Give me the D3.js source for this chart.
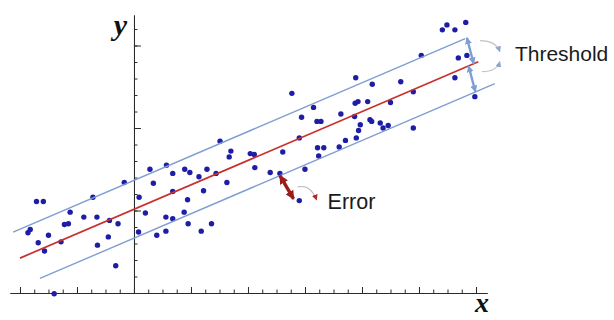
<!DOCTYPE html>
<html>
<head>
<meta charset="utf-8">
<script src="https://cdn.jsdelivr.net/npm/d3@7"></script>
<style>
  html, body { margin: 0; padding: 0; background: #fff; }
  svg { display: block; }
</style>
</head>
<body>
<script>
// Observations (x, y) in axis units
const obsX = [-1.71,-1.59,-1.12,-0.88,-0.65,-0.72,-0.17,-0.43,-0.28,-1.22,-1.15,-1.82,-1.86,-1.50,-1.68,-1.28,-1.57,-0.64,-0.45,-0.32,-1.40,
  0.09,0.20,0.28,0.34,0.57,0.68,0.68,0.89,0.98,0.94,1.14,1.22,1.28,1.44,1.63,1.51,1.70,1.67,2.04,2.11,2.12,0.08,0.40,0.56,1.18,0.56,0.68,0.88,0.95,1.36,
  2.39,2.56,3.00,2.90,2.77,3.15,3.89,4.18,4.68,3.88,3.93,4.10,4.50,2.94,3.21,3.28,3.63,3.87,4.14,4.17,3.97,4.32,4.46,4.37,3.94,3.90,3.71,3.60,3.22,3.33,3.24,2.90,2.61,
  5.49,5.41,5.63,5.82,5.04,5.69,5.63,4.90,5.98,4.90,5.84];
const obsY = [1.11,1.11,0.98,0.92,0.92,1.16,1.34,0.88,0.84,0.83,0.84,0.77,0.73,0.70,0.61,0.62,0.51,0.58,0.68,0.33,-0.01,
  1.16,0.97,1.50,1.33,1.55,1.45,1.23,1.50,1.46,1.13,1.41,1.24,1.50,1.45,1.34,1.84,1.72,1.65,1.69,1.68,1.52,0.74,0.70,0.75,0.75,0.92,0.90,0.98,0.84,0.84,
  1.46,1.45,1.50,1.12,2.42,2.25,2.61,2.53,2.56,2.30,2.32,2.32,2.31,2.13,2.08,2.08,2.17,2.14,2.10,2.08,2.04,2.06,2.03,2.00,1.97,1.88,1.85,1.77,1.76,1.76,1.66,1.88,1.71,
  3.25,3.19,3.19,3.28,2.88,2.85,2.61,2.44,2.38,2.00,2.88];

// Fitted line y = intercept + slope * x, with a band of +/- threshold
const fitIntercept = 1.015;
const fitSlope = 0.296;
const threshold = 0.35;
const fitSpan = [-2.0, 6.04];
const upperSpan = [-2.12, 5.81];
const lowerSpan = [-1.65, 6.33];

// Axis extents and ticks
const xExtent = [-2.175, 6.193];
const yExtent = [0, 3.37];
const xMajorTicks = d3.range(-2, 6.001, 1);
const xMinorTicks = d3.range(-2, 6.001, 0.25);
const yMajorTicks = d3.range(0, 3.001, 1);
const yMinorTicks = d3.range(0, 3.201, 0.2);

// Annotation anchors (axis units)
const thresholdAt = 5.84;
const errorFrom = 2.56;
const errorTo = [2.8, 1.14];
const labels = { x: "x", y: "y", threshold: "Threshold", error: "Error" };

const W = 614, H = 320;
const svg = d3.select("body").append("svg").attr("width", W).attr("height", H);

const x = d3.scaleLinear().domain(xExtent).range([10, 487]);
const y = d3.scaleLinear().domain(yExtent).range([293, 15]);

const fit = v => fitIntercept + fitSlope * v;

const defs = svg.append("defs");
function marker(id, color, w, h) {
  defs.append("marker")
    .attr("id", id).attr("viewBox", "0 0 10 10")
    .attr("refX", 9).attr("refY", 5)
    .attr("markerWidth", w).attr("markerHeight", h)
    .attr("markerUnits", "userSpaceOnUse")
    .attr("orient", "auto-start-reverse")
    .append("path").attr("d", "M0,0 L10,5 L0,10 Z").attr("fill", color);
}
marker("headBlue", "#7f9ed6", 7, 7);
marker("headRed", "#9c1c1c", 9, 9);
marker("headGray", "#8ea5cf", 6, 6);
marker("headRedSmall", "#b02a2a", 6, 6);

// Axes: ticks point into the plot
const axisColor = "#2b2b2b";
function styleAxis(g) {
  g.selectAll("path,line").attr("stroke", axisColor).attr("stroke-width", 1);
  g.selectAll("text").remove();
}
svg.append("g").attr("transform", `translate(0,${y(0)})`)
  .call(d3.axisTop(x).tickValues(xMinorTicks).tickSize(3.5).tickSizeOuter(0).tickFormat(""))
  .call(styleAxis);
svg.append("g").attr("transform", `translate(0,${y(0)})`)
  .call(d3.axisTop(x).tickValues(xMajorTicks).tickSize(6).tickSizeOuter(0).tickFormat(""))
  .call(styleAxis);
svg.append("g").attr("transform", `translate(${x(0)},0)`)
  .call(d3.axisRight(y).tickValues(yMinorTicks).tickSize(3.5).tickSizeOuter(0).tickFormat(""))
  .call(styleAxis);
svg.append("g").attr("transform", `translate(${x(0)},0)`)
  .call(d3.axisRight(y).tickValues(yMajorTicks).tickSize(7).tickSizeOuter(0).tickFormat(""))
  .call(styleAxis);

// Axis labels
svg.append("text").attr("x", x(0) - 7).attr("y", 35)
  .attr("text-anchor", "end")
  .attr("font-family", "'Liberation Serif', 'DejaVu Serif', serif")
  .attr("font-style", "italic").attr("font-weight", "bold")
  .attr("font-size", 30).attr("fill", "#111").text(labels.y);
svg.append("text").attr("x", x(6.193) + 2).attr("y", 312)
  .attr("text-anchor", "end")
  .attr("font-family", "'Liberation Serif', 'DejaVu Serif', serif")
  .attr("font-style", "italic").attr("font-weight", "bold")
  .attr("font-size", 28).attr("fill", "#111").text(labels.x);

// Observations
const pts = obsX.map((v, i) => [v, obsY[i]]);
svg.append("g").selectAll("circle").data(pts).join("circle")
  .attr("cx", d => x(d[0])).attr("cy", d => y(d[1]))
  .attr("r", 2.7).attr("fill", "#1d1da6");

// Fitted line and threshold band
const line = d3.line().x(d => x(d[0])).y(d => y(d[1]));
svg.append("path")
  .attr("d", line(upperSpan.map(v => [v, fit(v) + threshold])))
  .attr("stroke", "#7f9ed2").attr("stroke-width", 1.4).attr("fill", "none");
svg.append("path")
  .attr("d", line(lowerSpan.map(v => [v, fit(v) - threshold])))
  .attr("stroke", "#7f9ed2").attr("stroke-width", 1.4).attr("fill", "none");
svg.append("path")
  .attr("d", line(fitSpan.map(v => [v, fit(v)])))
  .attr("stroke", "#c9302c").attr("stroke-width", 1.7).attr("fill", "none");

// Threshold arrows between the band edges and the fitted line
const tUp = [[thresholdAt, fit(thresholdAt) + threshold], [thresholdAt + 0.12, fit(thresholdAt + 0.12)]];
const tLo = [[thresholdAt + 0.03, fit(thresholdAt + 0.03)], [thresholdAt + 0.15, fit(thresholdAt + 0.15) - threshold]];
[tUp, tLo].forEach(seg => {
  svg.append("path").attr("d", line(seg))
    .attr("stroke", "#7f9ed6").attr("stroke-width", 2.4).attr("fill", "none")
    .attr("marker-start", "url(#headBlue)").attr("marker-end", "url(#headBlue)");
});

// Curved pointers towards the "Threshold" label
const ax = x(thresholdAt), ay = y(fit(thresholdAt));
const curve = d3.path();
curve.moveTo(ax + 13, ay - 26); curve.quadraticCurveTo(ax + 29, ay - 26, ax + 33, ay - 15);
svg.append("path").attr("d", curve.toString())
  .attr("stroke", "#c4c4c4").attr("stroke-width", 1.2).attr("fill", "none")
  .attr("marker-end", "url(#headGray)");
const curve2 = d3.path();
curve2.moveTo(ax + 15, ay + 5); curve2.quadraticCurveTo(ax + 30, ay + 5, ax + 33, ay - 5);
svg.append("path").attr("d", curve2.toString())
  .attr("stroke", "#c4c4c4").attr("stroke-width", 1.2).attr("fill", "none")
  .attr("marker-end", "url(#headGray)");
svg.append("text").attr("x", ax + 48).attr("y", ay - 6)
  .attr("font-family", "'Liberation Sans', Arial, sans-serif")
  .attr("font-size", 21).attr("fill", "#1a1a1a").text(labels.threshold);

// Error arrow from the band edge to an observation
const eSeg = [[errorFrom, fit(errorFrom) - threshold], errorTo];
svg.append("path").attr("d", line(eSeg))
  .attr("stroke", "#9c1c1c").attr("stroke-width", 3.4).attr("fill", "none")
  .attr("marker-start", "url(#headRed)").attr("marker-end", "url(#headRed)");
const ex = x(errorTo[0]), ey = y(errorTo[1]);
const curve3 = d3.path();
curve3.moveTo(ex + 4, ey - 12); curve3.quadraticCurveTo(ex + 17, ey - 15, ex + 23, ey + 1);
svg.append("path").attr("d", curve3.toString())
  .attr("stroke", "#bdbdbd").attr("stroke-width", 1.2).attr("fill", "none")
  .attr("marker-end", "url(#headRedSmall)");
svg.append("text").attr("x", ex + 34).attr("y", ey + 10)
  .attr("font-family", "'Liberation Sans', Arial, sans-serif")
  .attr("font-size", 21.5).attr("fill", "#1a1a1a").text(labels.error);
</script>
</body>
</html>
